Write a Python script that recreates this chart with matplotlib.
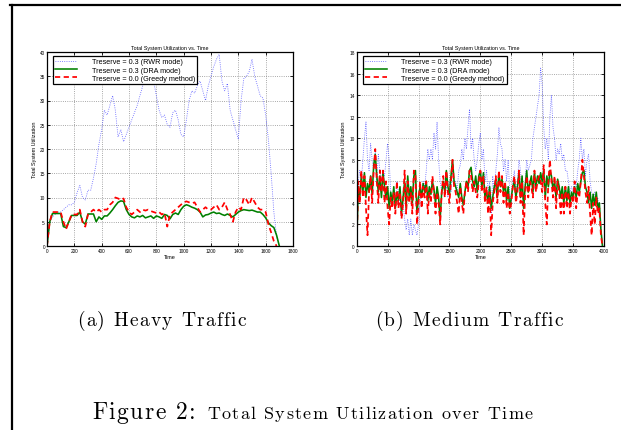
import numpy as np
import matplotlib.pyplot as plt
from matplotlib.lines import Line2D

# ---- data: (a) heavy traffic, sampled every 20 time units ----
heavy_time = np.arange(0, 1701, 20)
heavy_rwr = [0, 5, 6, 6.5, 7, 7, 7.5, 8, 8.5, 8.5,
             9, 11, 12.5, 10, 9.5, 11.5, 11.5, 14, 17, 21,
             24, 28, 27, 29, 31, 28, 22.5, 24, 21.5, 23,
             24.5, 26, 27.5, 29, 31, 33, 34, 35, 35.5, 34,
             31, 28, 26.5, 27, 25, 24.5, 27.5, 28, 26, 23,
             22.5, 26, 30, 32, 31.5, 33, 34, 32, 30, 33,
             35, 37, 38.5, 39.5, 34, 32, 33.5, 28, 26, 24,
             22, 30, 34.5, 35, 36, 38.5, 35, 33, 31, 30.5,
             27, 22, 15, 7, 2, 0]
heavy_dra = [0, 5, 6.7, 6.7, 6.7, 6.7, 4, 3.8, 5, 6.3,
             6.3, 6.3, 7, 5, 4.5, 6.6, 6.6, 6.6, 5, 6,
             5.5, 6.2, 6.2, 6.8, 7.5, 8.3, 9, 9.3, 9.2, 7.5,
             6.5, 6, 5.8, 6.2, 6, 6.3, 5.8, 6, 6.2, 5.7,
             6.2, 6, 5.7, 6.5, 6.3, 5.6, 6.5, 6.8, 6.5, 7.5,
             8.2, 8.5, 8.3, 8, 7.8, 7.5, 7, 6, 6.4, 6.5,
             6.8, 7, 6.7, 6.8, 6.5, 6.3, 6.6, 6.3, 6, 6.5,
             7, 7.3, 7.5, 7.4, 7.3, 7.4, 7.2, 7, 7, 6.5,
             5.8, 4.8, 4.2, 3.8, 2.2, 0]
heavy_greedy = [0, 5, 7, 7, 7, 7, 5, 3.5, 5, 6.5,
                6.5, 6.5, 7.5, 5, 4, 6.5, 7, 7.5, 7, 7.5,
                7, 7.5, 7.5, 8.5, 9, 10, 9.8, 9.5, 9.8, 8,
                7, 6.5, 7, 7.5, 7, 7.5, 7.3, 7.5, 7.2, 7,
                6.8, 7, 6.5, 6.8, 4, 6.5, 7, 7.5, 8, 8.5,
                9, 9.2, 9, 8.8, 9, 8, 7, 7.5, 8, 7.5,
                7.5, 8, 8.5, 7.5, 8, 9, 7.5, 6.5, 5, 7,
                8, 7.5, 10, 9.5, 8.5, 10, 9, 8, 7.5, 7.5,
                7, 4.5, 2.8, 1, 0, np.nan]

# ---- data: (b) medium traffic, sampled every 25 time units ----
medium_time = np.arange(0, 3976, 25)
medium_rwr = [0, 6, 7, 6, 8, 10, 11.5, 8,
              7, 9.5, 8, 7, 9, 6, 8.5, 7,
              6, 7, 6.5, 8, 9.5, 8, 5, 4.5,
              5, 4, 6, 5, 4, 3, 4, 2.5,
              1.5, 2.5, 1, 2.5, 1, 2, 1.5, 1,
              2, 4, 5, 6, 5.5, 7, 9, 8,
              9, 8, 10.5, 9, 11.5, 8, 6, 5,
              6, 5, 5.5, 4.5, 6, 5, 7, 6,
              6, 5, 7, 7.5, 9, 8, 10, 9,
              11, 12.7, 9, 10, 8, 7, 8, 9.5,
              10.5, 8, 9, 6, 7, 5, 6, 3,
              6.5, 5, 7, 8.5, 11, 9.5, 9, 7,
              8, 6, 8, 5, 4, 6, 7, 5,
              6, 8, 7, 5, 3.5, 6, 8, 7,
              7.5, 8, 10, 11, 12, 13, 14, 16.5,
              15, 11, 9, 10, 8, 12, 14, 11,
              10, 8, 9, 8.5, 9.5, 8, 8.5, 7,
              7, 6, 5, 5.5, 5, 6, 5.5, 7,
              8, 10, 8, 9, 6.5, 8, 8.5, 6,
              5, 4.5, 5, 4, 4.5, 3, 2, 0]
medium_dra = [0, 5.5, 4.5, 6.5, 5, 6.8, 4.5, 5.8,
              5, 6.5, 4.8, 7.5, 8.5, 6.5, 5, 6.5,
              4.5, 6.8, 5.5, 4.5, 5.5, 3.5, 5, 4,
              5.5, 3.5, 5, 4.2, 5.5, 3, 4.5, 6,
              3.5, 6.5, 4.5, 5.5, 4, 6.5, 7, 3,
              4.5, 5.5, 4.5, 5.8, 5, 6, 4.2, 5.5,
              4.8, 6, 5.2, 4, 5.5, 4.5, 2.5, 5,
              6, 5, 7, 5.5, 4.8, 6.5, 8, 6,
              5.5, 5, 4.5, 5.8, 4.5, 3.8, 5, 6,
              5.5, 7, 7.3, 6, 5.5, 6.5, 5, 6.5,
              7, 5.5, 6.8, 4.5, 5, 4, 5.5, 3.5,
              4.5, 5.5, 6, 4.5, 6.8, 5.5, 6.2, 5,
              5.8, 4.2, 5.5, 3.5, 4.5, 5.5, 6, 4.5,
              5.5, 6.8, 4.5, 6.5, 3.5, 5.5, 7, 5,
              5.8, 6.5, 5, 6.8, 5.5, 6.5, 5.8, 6.8,
              6, 7, 4.5, 6.5, 5.5, 7, 6.5, 5.2,
              6, 4.5, 6.2, 5.5, 4.5, 5.5, 4, 5.5,
              4.2, 5.5, 4, 5, 4.5, 5.5, 4.5, 5.8,
              5, 6, 6.8, 7, 5.5, 5, 4, 5,
              3.5, 4.8, 3.8, 5, 3.5, 4, 1.5, 0]
medium_greedy = [0, 6, 4, 7, 4.5, 6.5, 3.5, 1,
                 5, 6.5, 4, 7, 9, 6, 4, 7,
                 5, 7, 4, 6, 3.5, 2, 4.5, 3.5,
                 5, 3, 6, 3.5, 5, 2.5, 4, 7,
                 3, 6, 4, 5, 3, 7, 6.5, 2,
                 4, 6, 3.5, 5.5, 4.5, 6, 3, 5,
                 4, 6.5, 5, 3, 5, 4, 2, 5,
                 6.5, 4.5, 7, 5, 4, 6, 8, 5.5,
                 5, 4, 3, 5.5, 4, 3, 5, 6,
                 5, 7, 6.5, 5, 6, 5, 4.5, 6,
                 7, 5, 6.5, 4, 5.5, 3, 5, 1,
                 4, 5, 6.5, 4, 7, 5, 6.5, 4,
                 6, 3.5, 5, 3, 4, 5.5, 6.5, 4,
                 5, 7, 4, 6, 1, 5, 6.5, 4.5,
                 6, 5.5, 4.5, 7, 5, 6, 6.5, 6,
                 5, 7.5, 4, 2, 6, 8, 6, 4.5,
                 6.5, 3.5, 6, 5, 3, 5, 3, 5.5,
                 3.5, 5, 3, 4.5, 4, 6, 3.5, 5,
                 4.5, 6, 8, 6.5, 5, 4, 5.5, 3,
                 1, 4, 2, 4.5, 3, 3.5, 1, 0]

labels = ['Treserve = 0.3 (RWR mode)', 'Treserve = 0.3 (DRA mode)',
          'Treserve = 0.0 (Greedy method)']

plt.rcParams['font.family'] = ['Liberation Sans', 'DejaVu Sans']

fig = plt.figure(figsize=(6.21, 4.31), dpi=100)
W, H = 621.0, 431.0

def panel(rect, t, rwr, dra, greedy, xmax, xstep, ymax, ystep):
    ax = fig.add_axes(rect)
    ax.plot(t, rwr, color='#5c5cff', linestyle=':', linewidth=0.6, label=labels[0])
    ax.plot(t, dra, color='#008000', linestyle='-', linewidth=1.15, label=labels[1])
    ax.plot(t, greedy, color='red', linestyle='--', dashes=(3, 2), linewidth=1.25, label=labels[2])
    ax.set_xlim(0, xmax)
    ax.set_ylim(0, ymax)
    ax.set_xticks(np.arange(0, xmax + 1, xstep))
    ax.set_yticks(np.arange(0, ymax + 0.1, ystep))
    ax.grid(True, linestyle=':', color='0.55', linewidth=0.6)
    ax.tick_params(direction='in', length=2, width=0.6, labelsize=3.4, pad=1.5,
                   top=True, right=True)
    for s in ax.spines.values():
        s.set_linewidth(0.9)
    ax.set_title('Total System Utilization vs. Time', fontsize=3.9, pad=2.5)
    ax.set_xlabel('Time', fontsize=4, labelpad=1)
    ax.set_ylabel('Total System Utilization', fontsize=4, labelpad=2)
    leg = ax.legend(loc='upper left', bbox_to_anchor=(0.024, 0.98), borderaxespad=0,
                    fontsize=5.2, handlelength=3, handletextpad=2, labelspacing=0.15,
                    borderpad=0.35, fancybox=False, framealpha=1, edgecolor='black')
    leg.get_frame().set_linewidth(0.9)
    return ax

panel([47 / W, 184 / H, 246 / W, 194 / H], heavy_time, heavy_rwr, heavy_dra, heavy_greedy,
      1800, 200, 40, 5)
panel([356.7 / W, 184 / H, 247.3 / W, 194 / H], medium_time, medium_rwr, medium_dra,
      medium_greedy, 4000, 500, 18, 2)

# page frame lines (top and left)
fig.add_artist(Line2D([10 / W, 1.0], [1 - 6 / H, 1 - 6 / H], color='black', linewidth=1.6))
fig.add_artist(Line2D([11.5 / W, 11.5 / W], [0, 1 - 6 / H], color='black', linewidth=1.6))

# captions: the original is typeset with wide letter spacing, so place letter by letter
renderer = fig.canvas.get_renderer()

def caption(text, x, y, size, track):
    for ch in text:
        if ch == ' ':
            x += 0.333 * size * 100 / 72 + track
            continue
        t = fig.text(x / W, 1 - y / H, ch, family='cmr10', fontsize=size,
                     ha='left', va='baseline')
        x += t.get_window_extent(renderer).width + track
    return x

caption('(a) Heavy Traffic', 77, 326, 14, 1.3)
caption('(b) Medium Traffic', 375, 326, 14, 1.3)
caption('Figure 2:', 92, 419, 17, 1.4)
caption('Total System Utilization over Time', 207, 419, 13, 1.3)

plt.savefig('out.png', dpi=100)
